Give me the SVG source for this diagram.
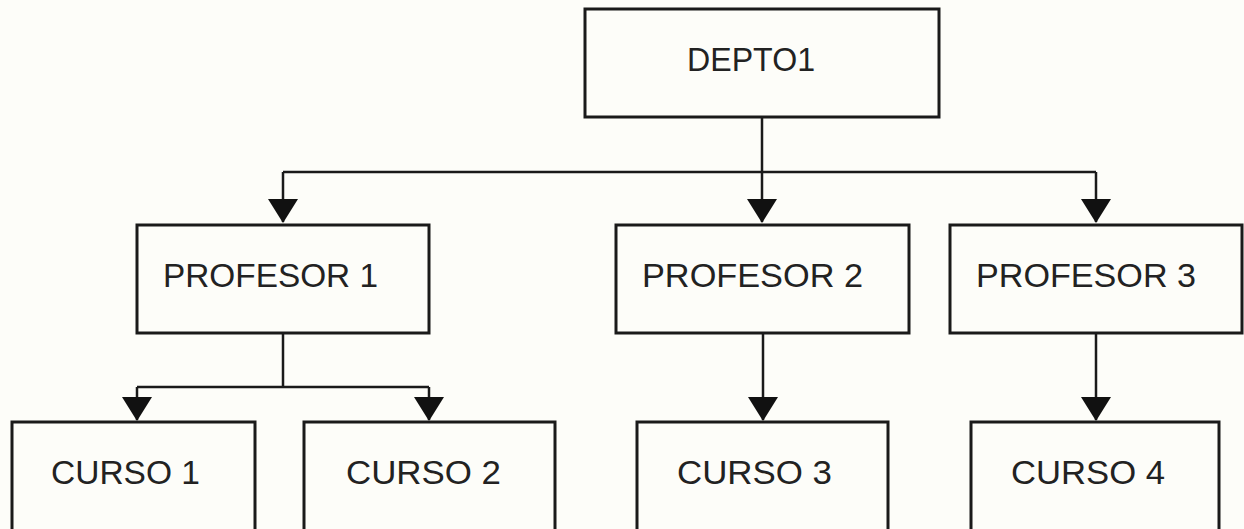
<svg xmlns="http://www.w3.org/2000/svg" width="1244" height="529" viewBox="0 0 1244 529">
<style>
.box{fill:#fdfdf9;stroke:#1a1a1a;stroke-width:3}
.lbl{font-family:"Liberation Sans",Arial,sans-serif;font-size:33px;fill:#222}
.con{fill:none;stroke:#1a1a1a;stroke-width:2.5}
</style>
<defs>
<marker id="arr" markerUnits="userSpaceOnUse" markerWidth="26" markerHeight="32" viewBox="0 0 26 32" refX="24" refY="16" orient="auto">
<path d="M1,1 L25,16 L1,31 Z" fill="#111"/>
</marker>
</defs>
<rect width="1244" height="529" fill="#fdfdf9"/>
<g id="connectors">
<path class="con" d="M762,117 V172"/>
<path class="con" d="M283,172 H1096"/>
<path class="con" d="M283,172 V222" marker-end="url(#arr)"/>
<path class="con" d="M762,172 V222" marker-end="url(#arr)"/>
<path class="con" d="M1096,172 V222" marker-end="url(#arr)"/>
<path class="con" d="M283,333 V387"/>
<path class="con" d="M137,387 H429"/>
<path class="con" d="M137,387 V420" marker-end="url(#arr)"/>
<path class="con" d="M429,387 V420" marker-end="url(#arr)"/>
<path class="con" d="M763,333 V420" marker-end="url(#arr)"/>
<path class="con" d="M1096,333 V420" marker-end="url(#arr)"/>
</g>
<g id="depto1">
<rect class="box" x="585" y="9" width="354" height="108"/>
<text class="lbl" x="687" y="71" textLength="128" lengthAdjust="spacingAndGlyphs">DEPTO1</text>
</g>
<g id="profesor1">
<rect class="box" x="137" y="225" width="292" height="108"/>
<text class="lbl" x="163" y="287" textLength="215" lengthAdjust="spacingAndGlyphs">PROFESOR 1</text>
</g>
<g id="profesor2">
<rect class="box" x="616" y="225" width="293" height="108"/>
<text class="lbl" x="642" y="287" textLength="221" lengthAdjust="spacingAndGlyphs">PROFESOR 2</text>
</g>
<g id="profesor3">
<rect class="box" x="950" y="225" width="292" height="108"/>
<text class="lbl" x="976" y="287" textLength="220" lengthAdjust="spacingAndGlyphs">PROFESOR 3</text>
</g>
<g id="curso1">
<rect class="box" x="12" y="422" width="243" height="115"/>
<text class="lbl" x="51" y="484" textLength="149" lengthAdjust="spacingAndGlyphs">CURSO 1</text>
</g>
<g id="curso2">
<rect class="box" x="304" y="422" width="251" height="115"/>
<text class="lbl" x="346" y="484" textLength="155" lengthAdjust="spacingAndGlyphs">CURSO 2</text>
</g>
<g id="curso3">
<rect class="box" x="637" y="422" width="251" height="115"/>
<text class="lbl" x="677" y="484" textLength="155" lengthAdjust="spacingAndGlyphs">CURSO 3</text>
</g>
<g id="curso4">
<rect class="box" x="971" y="422" width="248" height="115"/>
<text class="lbl" x="1011" y="484" textLength="154" lengthAdjust="spacingAndGlyphs">CURSO 4</text>
</g>
</svg>
